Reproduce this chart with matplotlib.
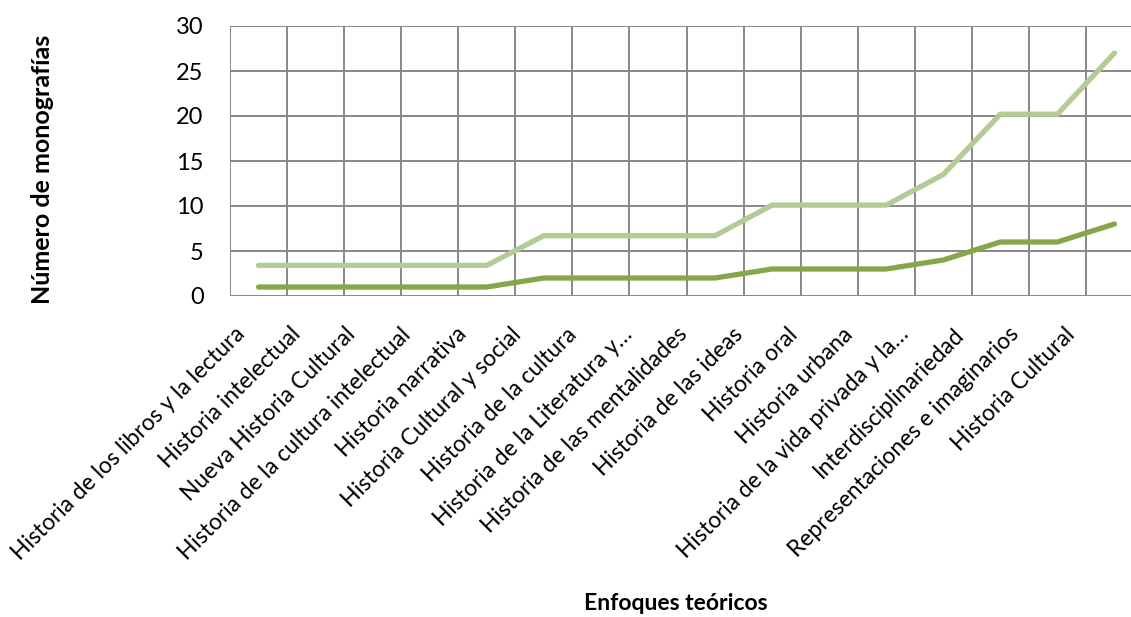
import matplotlib
matplotlib.use("Agg")
import matplotlib.pyplot as plt
import matplotlib.transforms as mtransforms

# Datos
enfoques = [
    "Historia de los libros y la lectura",
    "Historia intelectual",
    "Nueva Historia Cultural",
    "Historia de la cultura intelectual",
    "Historia narrativa",
    "Historia Cultural y social",
    "Historia de la cultura",
    "Historia de la Literatura y…",
    "Historia de las mentalidades",
    "Historia de las ideas",
    "Historia oral",
    "Historia urbana",
    "Historia de la vida privada y la…",
    "Interdisciplinariedad",
    "Representaciones e imaginarios",
    "Historia Cultural",
]
monografias = [1, 1, 1, 1, 1, 2, 2, 2, 2, 3, 3, 3, 4, 6, 6, 8]
acumulado = [3.4, 3.4, 3.4, 3.4, 3.4, 6.7, 6.7, 6.7, 6.7, 10.1, 10.1, 10.1, 13.5, 20.2, 20.2, 27.0]
yticks = [0, 5, 10, 15, 20, 25, 30]

plt.rcParams['font.family'] = ['Lato', 'DejaVu Sans']

W, H = 1131, 617
fig = plt.figure(figsize=(W / 100, H / 100), dpi=100)
ax = fig.add_axes([230 / W, 1 - 296 / H, 913 / W, 270 / H])

x = list(range(len(enfoques)))
ax.plot(x, acumulado, color='#B3CB94', linewidth=3.8, solid_capstyle='round', zorder=3)
ax.plot(x, monografias, color='#86A64A', linewidth=3.8, solid_capstyle='round', zorder=4)

ax.set_xlim(-0.5, len(enfoques) - 0.5)
ax.set_ylim(0, 30)
ax.set_yticks(yticks)

# cuadricula entre categorias (estilo Excel)
for b in range(len(enfoques) + 1):
    ax.axvline(b - 0.5, color='#878787', linewidth=1.4, zorder=1)
for t in yticks:
    ax.axhline(t, color='#878787', linewidth=1.4, zorder=1)
for s in ax.spines.values():
    s.set_visible(False)

ax.tick_params(axis='y', length=0, pad=19, labelsize=17)
ax.tick_params(axis='x', length=0, pad=0)
ax.set_xticks(x)
ax.set_xticklabels(enfoques, rotation=45, ha='right', va='center',
                   rotation_mode='anchor', fontsize=16.4)
for i, lbl in enumerate(ax.get_xticklabels()):
    dx = (-17 - 1.75 * i) / 100
    lbl.set_transform(lbl.get_transform() +
                      mtransforms.ScaledTranslation(dx, -0.35, fig.dpi_scale_trans))

fig.text(43 / W, 1 - 169 / H, 'Número de monografías', rotation=90,
         ha='center', va='center', fontsize=18, fontweight='bold')
fig.text(676 / W, 1 - 604 / H, 'Enfoques teóricos',
         ha='center', va='center', fontsize=16.5, fontweight='bold')

fig.savefig('out.png', dpi=100)
